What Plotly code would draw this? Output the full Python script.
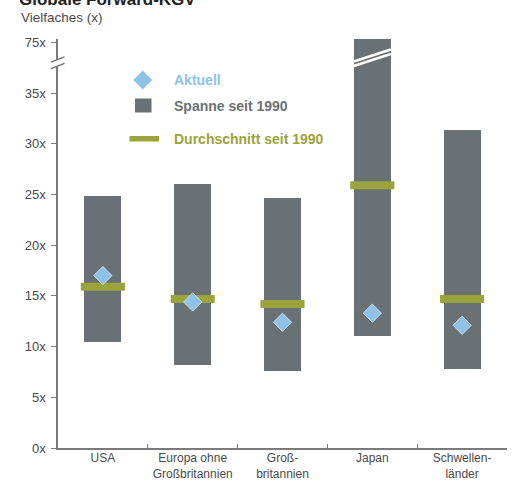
import plotly.graph_objects as go

# Forward-KGV je Region: Spanne, Durchschnitt und aktueller Wert
regionen = ["USA", "Europa ohne<br>Großbritannien", "Groß-<br>britannien", "Japan", "Schwellen-<br>länder"]
spanne_min = [10.5, 8.2, 7.6, 11.0, 7.8]
spanne_max = [24.9, 26.0, 24.7, 76.0, 31.4]
durchschnitt = [15.9, 14.7, 14.2, 25.9, 14.7]
aktuell = [17.0, 14.4, 12.4, 13.3, 12.1]

y_ticks_unten = [0, 5, 10, 15, 20, 25, 30, 35]
y_ticks_oben = [75]

GRAU = "#6a7174"
OLIV = "#9ba33b"
HELLBLAU = "#8ec2e8"
TEXT = "#4a4a4a"
FONT = "Arial, Liberation Sans, sans-serif"

W, H = 518, 481
L, R, T, B = 58, 11, 39, 33
PW, PH = W - L - R, H - T - B


def px(x):
    return (x - L) / PW


def py(y):
    return (H - B - y) / PH


BRUCH = py(60)          # Grenze zwischen unterem und oberem Achsenabschnitt
UNTEN_MAX = (H - B - 60) / 10.14

spannweite = [hi - lo for hi, lo in zip(spanne_max, spanne_min)]

fig = go.Figure()
for ya in ("y", "y2"):
    fig.add_trace(go.Bar(
        x=regionen, y=spannweite, base=spanne_min, yaxis=ya,
        width=0.41, marker=dict(color=GRAU, line=dict(width=0)),
        showlegend=False, hoverinfo="skip",
    ))

fig.add_trace(go.Scatter(
    x=regionen, y=durchschnitt, mode="markers",
    marker=dict(symbol="line-ew", size=31.5, line=dict(color=OLIV, width=8)),
    showlegend=False,
))
fig.add_trace(go.Scatter(
    x=regionen, y=aktuell, mode="markers",
    marker=dict(symbol="diamond", size=14, color=HELLBLAU,
                line=dict(color="#cde4f5", width=1)),
    showlegend=False,
))

shapes = []
# Bruchstreifen im Japan-Balken
for y_l, y_r in ((61.5, 49.5), (66, 54)):
    shapes.append(dict(type="line", xref="x", yref="paper",
                       x0=2.795, x1=3.205, y0=py(y_l), y1=py(y_r),
                       line=dict(color="white", width=2.5), layer="above"))
# Achsenbruch
shapes.append(dict(type="rect", xref="paper", yref="paper",
                   x0=px(54), x1=px(62), y0=py(66.5), y1=py(59.5),
                   fillcolor="white", line=dict(width=0), layer="above"))
for yc in (59.5, 66):
    shapes.append(dict(type="line", xref="paper", yref="paper",
                       x0=px(51), x1=px(64.5), y0=py(yc + 2.6), y1=py(yc - 2.6),
                       line=dict(color="#6e6e6e", width=1.3), layer="above"))

# Legende
d_cx, d_cy, d_r = 142.7, 80, 9.5
shapes.append(dict(type="path", xref="paper", yref="paper",
                   path=(f"M{px(d_cx)},{py(d_cy - d_r)} L{px(d_cx + d_r)},{py(d_cy)} "
                         f"L{px(d_cx)},{py(d_cy + d_r)} L{px(d_cx - d_r)},{py(d_cy)} Z"),
                   fillcolor=HELLBLAU, line=dict(width=0), layer="above"))
shapes.append(dict(type="rect", xref="paper", yref="paper",
                   x0=px(135), x1=px(151.5), y0=py(112.5), y1=py(98.5),
                   fillcolor=GRAU, line=dict(width=0), layer="above"))
shapes.append(dict(type="rect", xref="paper", yref="paper",
                   x0=px(129.5), x1=px(159), y0=py(141.5), y1=py(136),
                   fillcolor=OLIV, line=dict(width=0), layer="above"))

annotations = [
    dict(text="<b>Globale Forward-KGV</b>", xref="paper", yref="paper",
         x=px(17), y=py(11), xanchor="left", yanchor="bottom", showarrow=False,
         font=dict(family=FONT, size=17, color="#222222")),
    dict(text="Vielfaches (x)", xref="paper", yref="paper",
         x=px(19), y=py(18), xanchor="left", yanchor="middle", showarrow=False,
         font=dict(family=FONT, size=13.5, color=TEXT)),
]
for txt, col, yc in (("Aktuell", HELLBLAU, 80), ("Spanne seit 1990", GRAU, 105.5),
                     ("Durchschnitt seit 1990", OLIV, 139)):
    annotations.append(dict(text=f"<b>{txt}</b>", xref="paper", yref="paper",
                            x=px(172), y=py(yc), xanchor="left", yanchor="middle",
                            showarrow=False, font=dict(family=FONT, size=14, color=col)))

achse = dict(showline=True, linecolor="#7a7a7a", linewidth=1.5, showgrid=False,
             zeroline=False, ticks="outside", ticklen=5, tickcolor="#7a7a7a",
             tickfont=dict(family=FONT, size=13, color=TEXT), ticklabelstandoff=3,
             automargin=False)

fig.update_layout(
    width=W, height=H, autosize=False,
    margin=dict(l=L, r=R, t=T, b=B, pad=0),
    paper_bgcolor="white", plot_bgcolor="white",
    barmode="overlay", bargap=0,
    shapes=shapes, annotations=annotations,
    xaxis=dict(type="category", showline=True, linecolor="#7a7a7a", linewidth=1.5,
               showgrid=False, ticks="inside", ticklen=4, tickcolor="#7a7a7a",
               tickson="boundaries", range=[-0.5, 4.5], tickangle=0, automargin=False,
               ticklabelstandoff=-2,
               tickfont=dict(family=FONT, size=12, color=TEXT)),
    yaxis=dict(domain=[0, BRUCH], range=[0, UNTEN_MAX], tickvals=y_ticks_unten,
               ticktext=[f"{v}x" for v in y_ticks_unten], **achse),
    yaxis2=dict(domain=[BRUCH, 1], range=[73.2, 75.4], anchor="x", tickvals=y_ticks_oben,
                ticktext=[f"{v}x" for v in y_ticks_oben], **achse),
)

fig.write_html("out.html")
